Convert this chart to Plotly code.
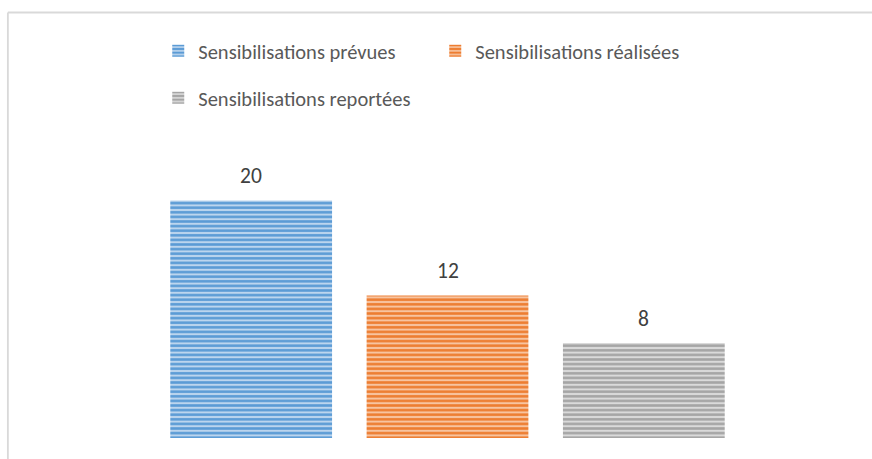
import plotly.graph_objects as go

# ---- data ----
series_names = ["Sensibilisations prévues", "Sensibilisations réalisées", "Sensibilisations reportées"]
series_values = [20, 12, 8]
series_colors = ["#5B9BD5", "#ED7D31", "#A5A5A5"]
series_light = ["#BCD5EE", "#F7C4A0", "#DADADA"]

W, H = 872, 459
ML, MR, MT, MB = 152.75, 129.75, 141, 21
PW = W - ML - MR
PH = H - MT - MB

FONT = "Carlito, Lato, sans-serif"

fig = go.Figure()
for i, (name, val, col, light) in enumerate(zip(series_names, series_values, series_colors, series_light)):
    fig.add_trace(go.Bar(
        x=[name], y=[val], name=name,
        width=0.824,
        marker=dict(color=col, line=dict(width=0),
                    pattern=dict(shape="-", size=4.6, solidity=0.55,
                                 fgcolor=col, bgcolor=light, fillmode="replace")),
        legend="legend" if i < 2 else "legend2",
        hoverinfo="skip",
    ))
    fig.add_annotation(x=name, y=val, text=str(val), showarrow=False,
                       yanchor="bottom", yshift=9,
                       font=dict(family=FONT, size=21.5, color="#404040"))

def px_to_paper_x(px):
    return (px - ML) / PW

def px_to_paper_y(py):
    return (H - MB - py) / PH

# chart frame (top and left edges visible)
fig.add_shape(type="line", xref="paper", yref="paper",
              x0=px_to_paper_x(7.5), x1=px_to_paper_x(W + 5),
              y0=px_to_paper_y(12.5), y1=px_to_paper_y(12.5),
              line=dict(color="#D9D9D9", width=1.8))
fig.add_shape(type="line", xref="paper", yref="paper",
              x0=px_to_paper_x(7.5), x1=px_to_paper_x(7.5),
              y0=px_to_paper_y(12.5), y1=px_to_paper_y(H + 5),
              line=dict(color="#D9D9D9", width=1.8))

legend_font = dict(family=FONT, size=20.5, color="#595959")
fig.update_layout(
    width=W, height=H,
    margin=dict(l=ML, r=MR, t=MT, b=MB, pad=0),
    paper_bgcolor="white", plot_bgcolor="white",
    barmode="overlay",
    xaxis=dict(visible=False, range=[-0.5, 2.5], fixedrange=True),
    yaxis=dict(visible=False, range=[0, 25], fixedrange=True),
    legend=dict(orientation="h", x=px_to_paper_x(158), xanchor="left",
                y=px_to_paper_y(51), yanchor="middle",
                font=legend_font, entrywidth=232, bgcolor="rgba(0,0,0,0)"),
    legend2=dict(orientation="h", x=px_to_paper_x(158), xanchor="left",
                 y=px_to_paper_y(98), yanchor="middle",
                 font=legend_font, bgcolor="rgba(0,0,0,0)"),
    showlegend=True,
)

fig.write_html("out.html", config={"displayModeBar": False},
               post_script="document.body.style.margin='0px';document.body.style.overflow='hidden';")
